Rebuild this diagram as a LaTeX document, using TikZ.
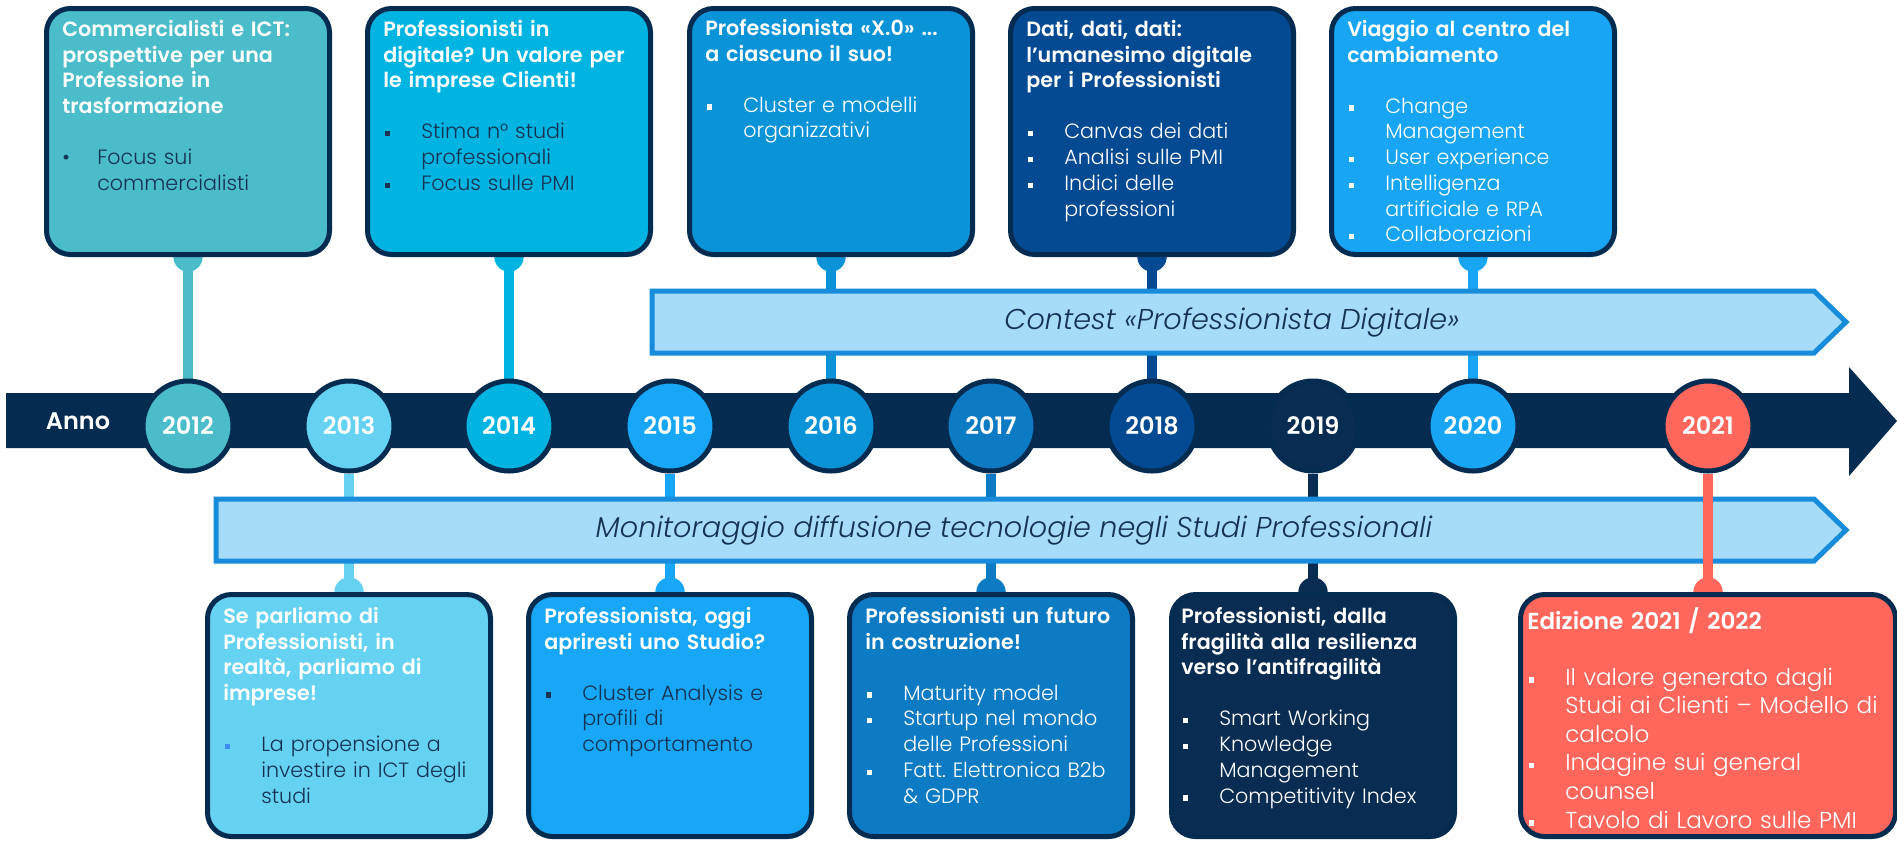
\documentclass[tikz,border=0pt]{standalone}
\usepackage{fontspec}
\setmainfont{Poppins}[UprightFont=* Light, ItalicFont=* Light Italic, BoldFont=* SemiBold, BoldItalicFont=* SemiBold Italic]
\frenchspacing

\definecolor{navy}{RGB}{4,43,80}
\definecolor{ink}{RGB}{22,50,82}
\definecolor{bandfill}{RGB}{166,220,250}
\definecolor{bandline}{RGB}{22,140,218}
\definecolor{bulblue}{RGB}{61,139,242}
\definecolor{c2012}{RGB}{75,188,202}
\definecolor{c2013}{RGB}{102,210,242}
\definecolor{c2014}{RGB}{0,180,226}
\definecolor{c2015}{RGB}{23,167,246}
\definecolor{c2016}{RGB}{11,147,216}
\definecolor{c2017}{RGB}{13,122,196}
\definecolor{c2018}{RGB}{3,74,147}
\definecolor{c2019}{RGB}{9,44,82}
\definecolor{c2020}{RGB}{24,165,243}
\definecolor{c2021}{RGB}{255,102,92}

% title lines, bullets and hanging indent
\newcommand\hd[1]{{\strut\bfseries\color{white}#1}}
\newcommand\sqb{\hspace*{1.5pt}\makebox[27pt][l]{\rule[1.8pt]{3.9pt}{3.9pt}}}
\newcommand\dtb{\makebox[26.25pt][l]{\textbullet}}
\newcommand\ind{\hspace*{28.5pt}}

\pgfdeclarelayer{bg}
\pgfsetlayers{bg,main}

\begin{document}
\begin{tikzpicture}[x=0.75pt,y=-0.75pt,
  year/.style={circle, draw=navy, line width=3.75pt, fill=#1, minimum size=67.5pt, inner sep=0pt, text=white, font=\fontsize{18}{20}\selectfont\bfseries},
  card/.style={rectangle, rounded corners=18pt, draw=navy, line width=3.75pt, fill=#1, minimum width=212.25pt, minimum height=184.5pt, inner sep=0pt},
  cardtxt/.style={anchor=north west, inner sep=0pt, text width=300pt, align=left, text=#1, font=\fontsize{15.5}{19.3}\selectfont},
  link/.style={draw=#1, line width=7.5pt},
  band/.style={fill=bandfill, draw=bandline, line width=3.75pt, line join=miter},
  bandtxt/.style={text=ink, font=\fontsize{21.5}{24}\selectfont\itshape}]
\useasboundingbox (0,0) rectangle (1897,840);

% timeline arrow
\fill[navy] (6,393) -- (1849,393) -- (1849,367) -- (1897,421) -- (1849,476) -- (1849,448) -- (6,448) -- cycle;
\node[font=\fontsize{18}{20}\selectfont\bfseries, text=white] (anno) at (78,421) {Anno};

% year circles
\foreach \yr/\xx in {2012/188,2013/349,2014/509,2015/670,2016/831,2017/991,2018/1152,2019/1313,2020/1473,2021/1708}
  \node[year=c\yr] (y\yr) at (\xx,426) {\yr};

% cards above and below the line
\foreach \yr/\xx in {2012/188,2014/509,2016/831,2018/1152,2020/1473}
  \node[card=c\yr] (b\yr) at (\xx,131.5) {};
\foreach \yr/\xx in {2013/349,2015/670,2017/991,2019/1313}
  \node[card=c\yr, minimum height=181.5pt] (b\yr) at (\xx,715.5) {};
\node[card=c2021, minimum height=181.5pt, minimum width=281.25pt] (b2021) at (1708,715.5) {};

% links and their knobs
\begin{pgfonlayer}{bg}
\foreach \yr in {2012,2014,2016,2018,2020}{
  \draw[link=c\yr] (y\yr) -- (b\yr);
  \fill[c\yr] (b\yr.south) circle (11pt);}
\foreach \yr in {2013,2015,2017,2019}{
  \draw[link=c\yr] (y\yr) -- (b\yr);
  \fill[c\yr] (b\yr.north) circle (11pt);}
\fill[c2021] (b2021.north) circle (11pt);
\end{pgfonlayer}

% bands
\draw[band] (652,291) -- (1814,291) -- (1846,322) -- (1814,353) -- (652,353) -- cycle;
\node[bandtxt] (contest) at (1232,322) {Contest «Professionista Digitale»};
\draw[band] (216,499) -- (1814,499) -- (1846,530) -- (1814,561) -- (216,561) -- cycle;
\node[bandtxt] (monit) at (1014,530) {Monitoraggio diffusione tecnologie negli Studi Professionali};
\draw[link=c2021] (y2021) -- (b2021);

% Text Node
\node[cardtxt=ink] (t2012) at (62,18) {\hd{Commercialisti e ICT:\\prospettive per una\\Professione in\\trasformazione}\\[19pt]
  \dtb Focus sui\\ \hspace*{26.25pt}commercialisti};
% Text Node
\node[cardtxt=ink] (t2014) at (383,18) {\hd{Professionisti in\\digitale? Un valore per\\le imprese Clienti!}\\[19pt]
  \sqb Stima n° studi\\ \ind professionali\\ \sqb Focus sulle PMI};
% Text Node
\node[cardtxt=white] (t2016) at (705,17) {\hd{Professionista «X.0» ...\\a ciascuno il suo!}\\[19pt]
  \sqb Cluster e modelli\\ \ind organizzativi};
% Text Node
\node[cardtxt=white] (t2018) at (1026,18) {\hd{Dati, dati, dati:\\l’umanesimo digitale\\per i Professionisti}\\[19pt]
  \sqb Canvas dei dati\\ \sqb Analisi sulle PMI\\ \sqb Indici delle\\ \ind professioni};
% Text Node
\node[cardtxt=white] (t2020) at (1347,18) {\hd{Viaggio al centro del\\cambiamento}\\[19pt]
  \sqb Change\\ \ind Management\\ \sqb User experience\\ \sqb Intelligenza\\ \ind artificiale e RPA\\ \sqb Collaborazioni};
% Text Node
\node[cardtxt=ink] (t2013) at (223,605) {\hd{Se parliamo di\\Professionisti, in\\realtà, parliamo di\\imprese!}\\[19pt]
  {\color{bulblue}\sqb}La propensione a\\ \ind investire in ICT degli\\ \ind studi};
% Text Node
\node[cardtxt=ink] (t2015) at (544,605) {\hd{Professionista, oggi\\apriresti uno Studio?}\\[19pt]
  \sqb Cluster Analysis e\\ \ind profili di\\ \ind comportamento};
% Text Node
\node[cardtxt=white] (t2017) at (865,605) {\hd{Professionisti un futuro\\in costruzione!}\\[19pt]
  \sqb Maturity model\\ \sqb Startup nel mondo\\ \ind delle Professioni\\ \sqb Fatt. Elettronica B2b\\ \ind \& GDPR};
% Text Node
\node[cardtxt=white] (t2019) at (1181,605) {\hd{Professionisti, dalla\\fragilità alla resilienza\\verso l’antifragilità}\\[19pt]
  \sqb Smart Working\\ \sqb Knowledge\\ \ind Management\\ \sqb Competitivity Index};
% Text Node
\node[cardtxt=white, font=\fontsize{17.3}{21.45}\selectfont] (t2021) at (1527,607) {\hd{Edizione 2021 / 2022}\\[20.5pt]
  \sqb Il valore generato dagli\\ \ind Studi ai Clienti – Modello di\\ \ind calcolo\\ \sqb Indagine sui general\\ \ind counsel\\ \sqb Tavolo di Lavoro sulle PMI};

\end{tikzpicture}
\end{document}
